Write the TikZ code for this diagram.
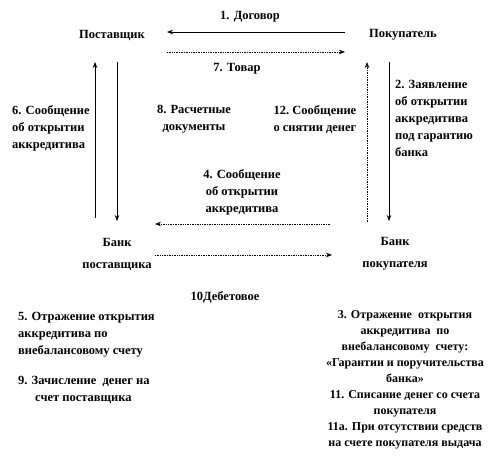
\documentclass[tikz,border=0pt]{standalone}
\usepackage{fontspec}
\setmainfont{Liberation Serif}
\usetikzlibrary{arrows.meta}
\begin{document}
\begin{tikzpicture}[x=1pt,y=-1pt,
  lbl/.style={font=\fontsize{12.5}{17}\selectfont\bfseries, inner sep=0pt},
  arr/.style={-{Stealth[length=6pt,width=4.5pt]}, line width=0.7pt},
  dotarr/.style={arr, densely dotted}]
\useasboundingbox (0,0) rectangle (493,456);
% main nodes
\node[lbl] (sup) at (112,35) {Поставщик};
\node[lbl] (buy) at (403,35) {Покупатель};
\node[lbl, align=center, font=\fontsize{12.5}{22}\selectfont\bfseries] (bs) at (117,254) {Банк\\поставщика};
\node[lbl, align=center, font=\fontsize{12.5}{22}\selectfont\bfseries] (bb) at (395,254) {Банк\\покупателя};
% arrow end points
\coordinate (a1s) at (345,32); \coordinate (a1e) at (167,32);
\coordinate (a7s) at (167,52); \coordinate (a7e) at (345,52);
\coordinate (l6s) at (95,218); \coordinate (l6e) at (95,62);
\coordinate (l5s) at (117,62); \coordinate (l5e) at (117,221);
\coordinate (r12s) at (367,222); \coordinate (r12e) at (367,62);
\coordinate (r2s) at (389,62); \coordinate (r2e) at (389,221);
\coordinate (a4s) at (330,224); \coordinate (a4e) at (155,224);
\coordinate (a10s) at (155,255); \coordinate (a10e) at (332,255);
% connectors
\draw[arr] (a1s) -- (a1e);
\draw[dotarr] (a7s) -- (a7e);
\draw[arr] (l6s) -- (l6e);
\draw[arr] (l5s) -- (l5e);
\draw[dotarr] (r12s) -- (r12e);
\draw[arr] (r2s) -- (r2e);
\draw[dotarr] (a4s) -- (a4e);
\draw[dotarr] (a10s) -- (a10e);
% labels
\node[lbl] (t1) at (250,17) {1. Договор};
\node[lbl] (t7) at (237,69) {7. Товар};
\node[lbl, align=left, anchor=north west] (t6) at (12,105) {6. Сообщение\\об открытии\\аккредитива};
\node[lbl, align=center, anchor=north] (t8) at (194,105) {8. Расчетные\\документы};
\node[lbl, align=center, anchor=north] (t12) at (315,105) {12.\ Сообщение\\о снятии денег};
\node[lbl, align=left, anchor=north west] (t2) at (395,80) {2. Заявление\\об открытии\\аккредитива\\под гарантию\\банка};
\node[lbl, align=center, anchor=north] (t4) at (242,169) {4. Сообщение\\об открытии\\аккредитива};
\node[lbl] (t10) at (225,297) {10Дебетовое};
\node[lbl, align=left, anchor=north west] (t5) at (18,312) {5. Отражение открытия\\аккредитива по\\внебалансовому счету};
\node[lbl, align=left, anchor=north west] (t9) at (18,376) {9. Зачисление\ \ денег на\\\hspace*{17pt}счет поставщика};
\node[lbl, align=center, anchor=north, font=\fontsize{12}{16}\selectfont\bfseries] (t3) at (405,310) {3. Отражение\ \ открытия\\аккредитива\ \ по\\внебалансовому\ \ счету:\\«Гарантии и поручительства\\банка»\\11. Списание денег со счета\\покупателя\\11а. При отсутствии средств\\на счете покупателя выдача};
\end{tikzpicture}
\end{document}
